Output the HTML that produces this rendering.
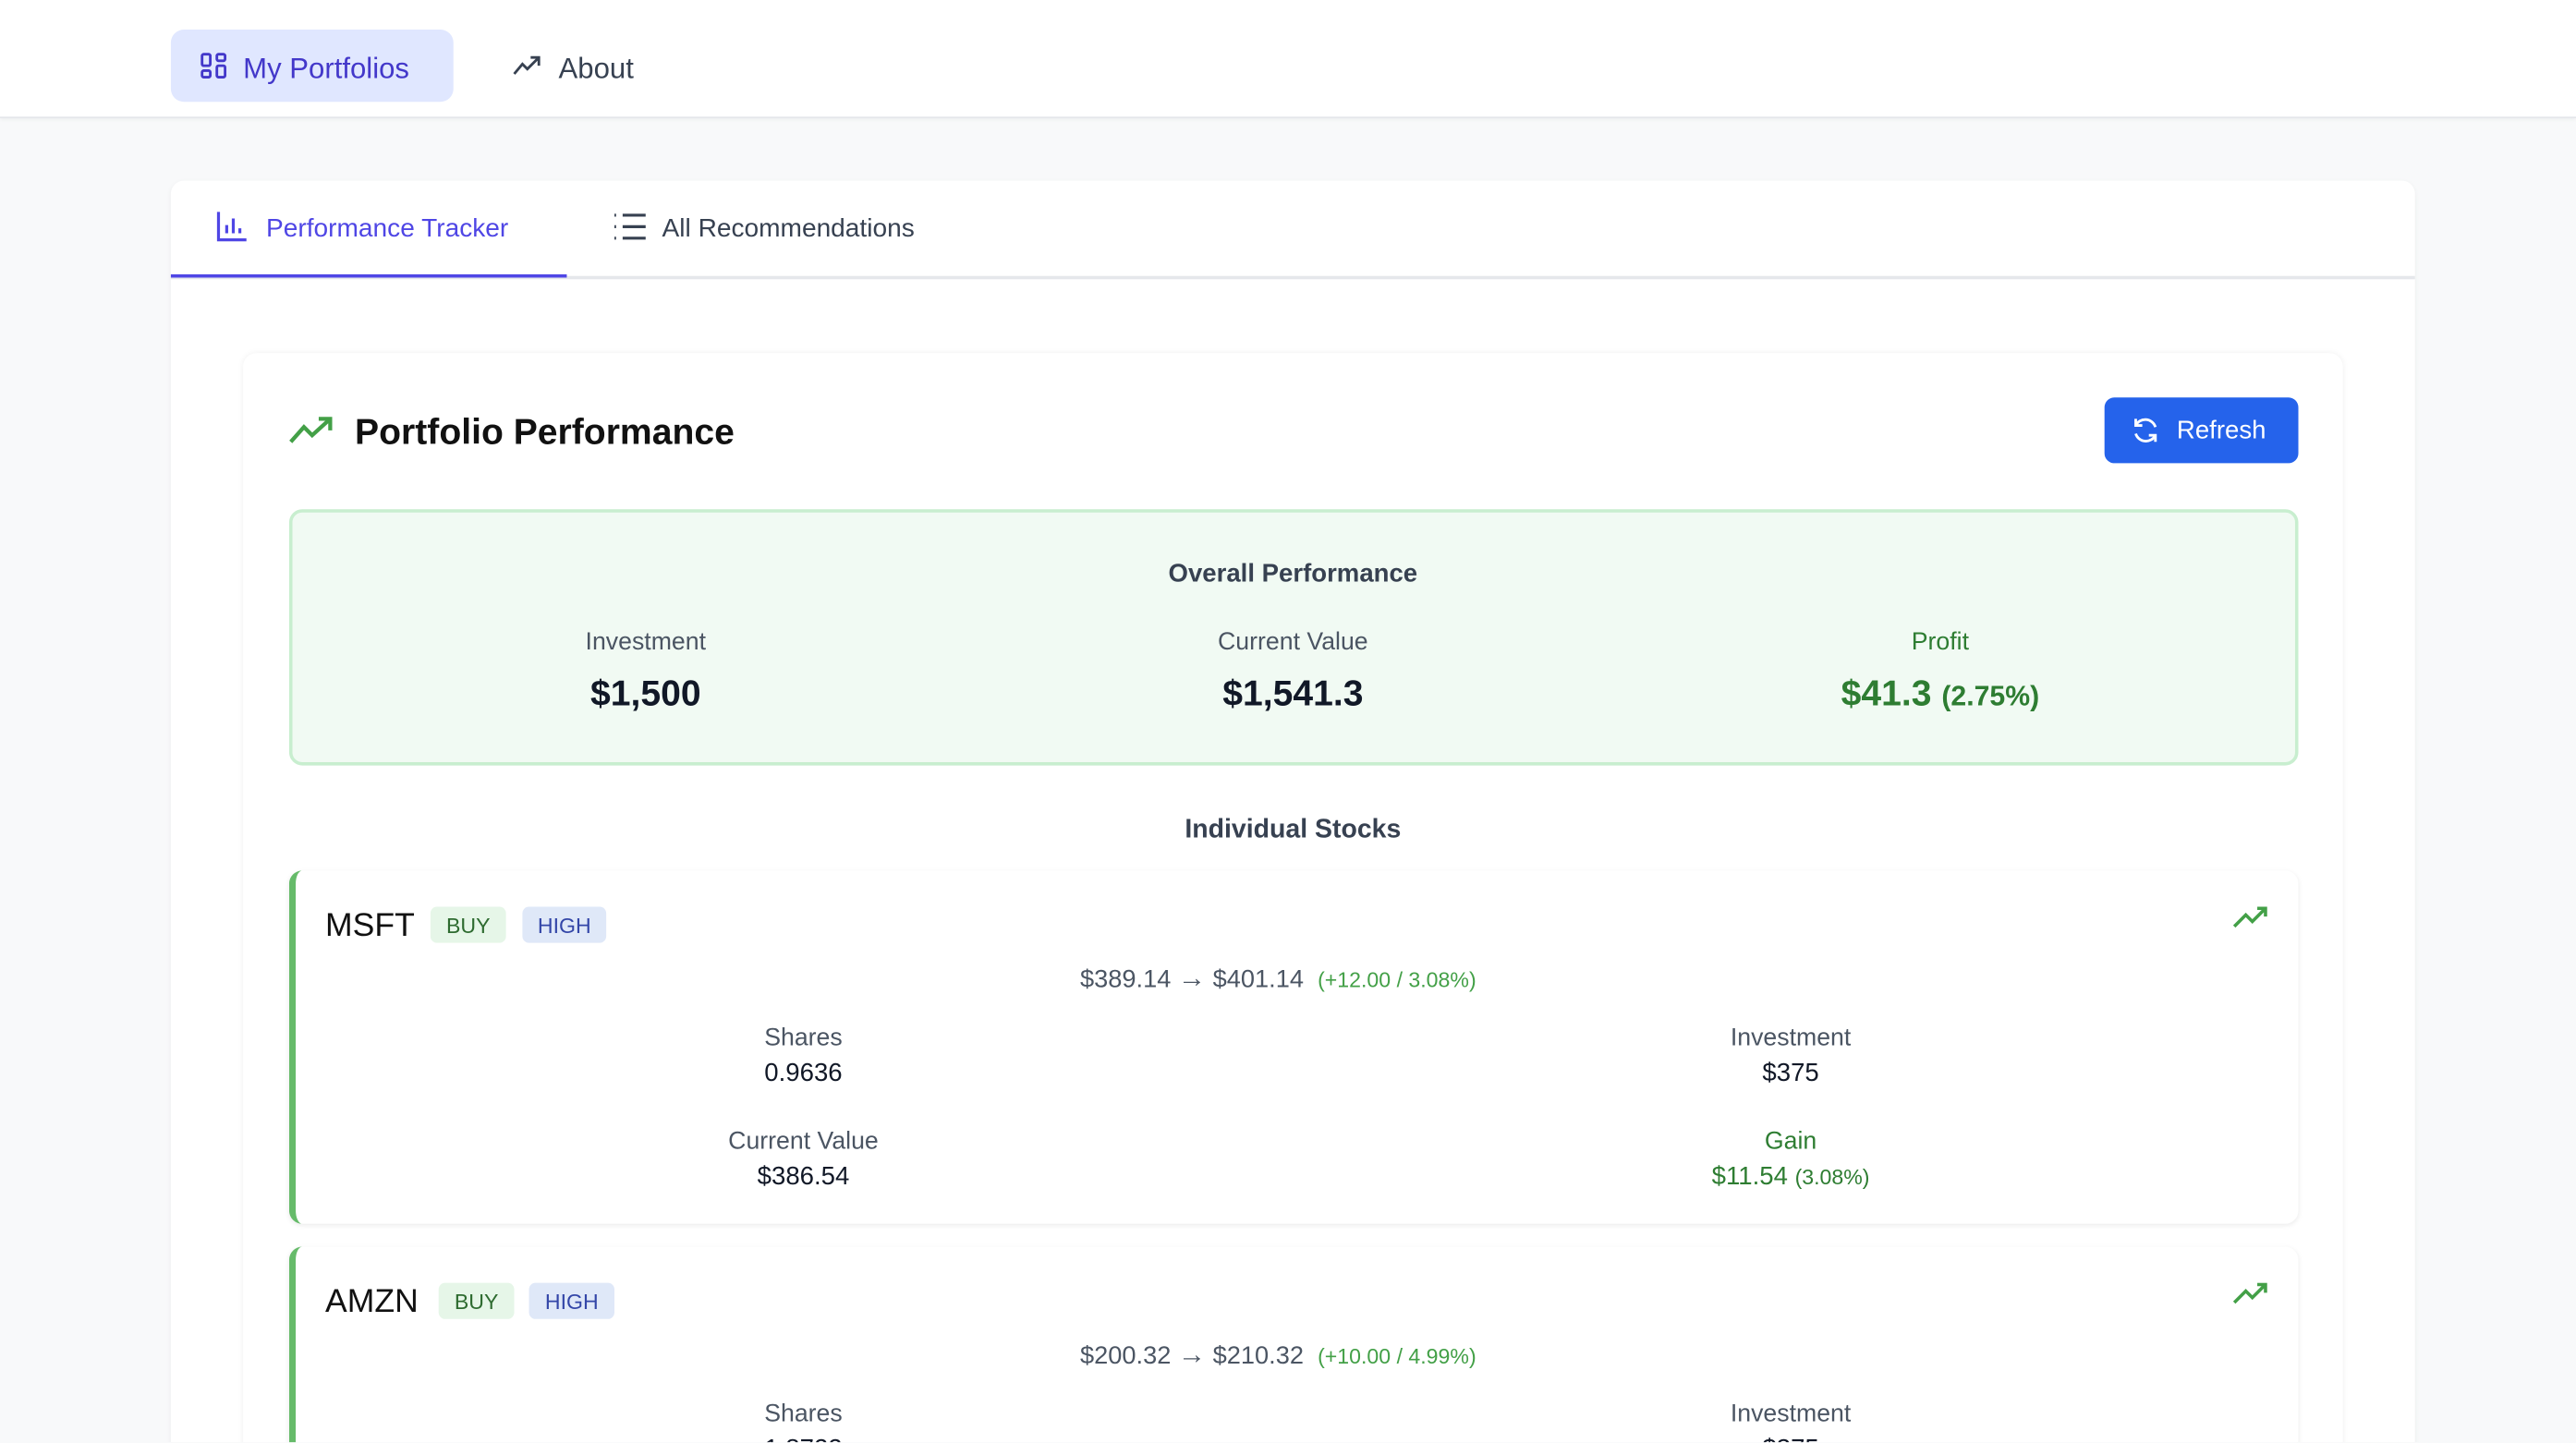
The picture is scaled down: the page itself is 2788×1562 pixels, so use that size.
<!DOCTYPE html>
<html><head><meta charset="utf-8"><style>
*{box-sizing:border-box;margin:0;padding:0}
html,body{width:2788px;height:1562px;overflow:hidden;background:#f8f9fa}
#r{width:1568px;height:878px;overflow:hidden;transform:scale(1.77806);transform-origin:0 0;position:relative;font-family:"Liberation Sans",sans-serif;color:#111827}
.a{position:absolute}
.c{position:absolute;transform:translate(-50%,-45%);white-space:nowrap}
.l{position:absolute;transform:translateY(-45%);white-space:nowrap}
.lab{font-size:15px;color:#4b5563}
.val{font-size:15.5px;color:#111827}
</style></head><body><div id="r">
<div class="a" style="left:0;top:0;width:1568px;height:72px;background:#fff;border-bottom:1px solid #e5e7eb;box-shadow:0 1px 2px rgba(0,0,0,.04)"></div>
<div class="a" style="left:104px;top:18px;width:172px;height:44px;background:#e0e7ff;border-radius:8px"></div>
<svg class="a" style="left:121px;top:31px" width="18" height="18" viewBox="0 0 18 18" fill="none" stroke="#4338ca" stroke-width="1.6"><rect x="2" y="2" width="5" height="7" rx="1"/><rect x="11" y="2" width="5" height="4" rx="1"/><rect x="11" y="9" width="5" height="7" rx="1"/><rect x="2" y="12" width="5" height="4" rx="1"/></svg>
<div class="l" style="left:148px;top:41px;font-size:17.5px;color:#4338ca">My Portfolios</div>
<svg class="a" style="left:312px;top:33px" width="18" height="14" viewBox="0 0 18 14" fill="none" stroke="#374151" stroke-width="1.6"><path d="M1 12l5-6 3 3 7-7M11 2h5v5"/></svg>
<div class="l" style="left:340px;top:41px;font-size:17.5px;color:#374151">About</div>

<div class="a" style="left:104px;top:110px;width:1366px;height:800px;background:#fff;border-radius:8px;box-shadow:0 1px 3px rgba(0,0,0,.05)"></div>
<div class="a" style="left:104px;top:168px;width:1366px;height:2px;background:#e5e7eb"></div>
<div class="a" style="left:104px;top:167px;width:241px;height:2px;background:#4f46e5"></div>
<svg class="a" style="left:131px;top:128px" width="20" height="20" viewBox="0 0 20 20" fill="none" stroke="#4f46e5" stroke-width="1.8"><path d="M2 1v17h17M7 14V9M11 14V5M15 14v-3"/></svg>
<div class="l" style="left:162px;top:139px;font-size:15.8px;color:#4f46e5">Performance Tracker</div>
<svg class="a" style="left:373px;top:129px" width="21" height="18" viewBox="0 0 21 18" fill="none" stroke="#374151" stroke-width="1.8"><path d="M1 2h1M1 9h1M1 16h1M6 2h14M6 9h14M6 16h14"/></svg>
<div class="l" style="left:403px;top:139px;font-size:15.8px;color:#374151">All Recommendations</div>

<div class="a" style="left:148px;top:215px;width:1278px;height:700px;background:#fff;border-radius:8px;box-shadow:0 0 4px rgba(0,0,0,.06)"></div>
<svg class="a" style="left:176px;top:253px" width="27" height="18" viewBox="0 0 27 18" fill="none" stroke="#43a047" stroke-width="2.4"><path d="M1 16l8-9 5 5 11-10M18 2h7v7"/></svg>
<div class="l" style="left:216px;top:262px;font-size:22px;font-weight:bold;color:#111">Portfolio Performance</div>
<div class="a" style="left:1281px;top:242px;width:118px;height:40px;background:#2563eb;border-radius:6px"></div>
<svg class="a" style="left:1297px;top:253px" width="18" height="18" viewBox="0 0 18 18" fill="none" stroke="#fff" stroke-width="1.6"><path d="M15 7A6.5 6.5 0 0 0 3 6M3 2v4h4M3 11a6.5 6.5 0 0 0 12 1M15 16v-4h-4"/></svg>
<div class="l" style="left:1325px;top:262px;font-size:15.5px;color:#fff">Refresh</div>

<div class="a" style="left:176px;top:310px;width:1223px;height:156px;background:#f1faf3;border:2px solid #c8eecf;border-radius:8px"></div>
<div class="c" style="left:787px;top:349px;font-size:15.5px;font-weight:bold;color:#374151">Overall Performance</div>
<div class="c lab" style="left:393px;top:390px">Investment</div>
<div class="c lab" style="left:787px;top:390px">Current Value</div>
<div class="c" style="left:1181px;top:390px;font-size:15px;color:#2e7d32">Profit</div>
<div class="c" style="left:393px;top:421px;font-size:22px;font-weight:bold">$1,500</div>
<div class="c" style="left:787px;top:421px;font-size:22px;font-weight:bold">$1,541.3</div>
<div class="c" style="left:1181px;top:421px;font-size:22px;font-weight:bold;color:#2e7d32">$41.3 <span style="font-size:17px">(2.75%)</span></div>

<div class="c" style="left:787px;top:505px;font-size:16px;font-weight:bold;color:#374151">Individual Stocks</div>

<div class="a" style="left:176px;top:530px;width:1223px;height:215px;background:#fff;border-left:4px solid #66bb6a;border-radius:8px;box-shadow:0 1px 3px rgba(0,0,0,.08)"></div>
<div class="l" style="left:198px;top:563px;font-size:20px;color:#111">MSFT</div>
<div class="a" style="left:262px;top:552px;width:46px;height:22px;background:#e6f6e8;border-radius:4px;color:#2e6b30;font-size:13px;text-align:center;line-height:23px">BUY</div>
<div class="a" style="left:318px;top:552px;width:51px;height:22px;background:#dfe8f8;border-radius:4px;color:#3346a8;font-size:13px;text-align:center;line-height:23px">HIGH</div>
<svg class="a" style="left:1359px;top:552px" width="22" height="14" viewBox="0 0 22 14" fill="none" stroke="#43a047" stroke-width="2"><path d="M1 12l7-7 4 4 8-8M15 1h5v5"/></svg>
<div class="c" style="left:778px;top:595px;font-size:15.3px;color:#4b5563">$389.14 <span style="font-size:17px">→</span> $401.14 &nbsp;<span style="font-size:13px;color:#43a047">(+12.00 / 3.08%)</span></div>
<div class="c lab" style="left:489px;top:631px">Shares</div>
<div class="c val" style="left:489px;top:653px">0.9636</div>
<div class="c lab" style="left:1090px;top:631px">Investment</div>
<div class="c val" style="left:1090px;top:653px">$375</div>
<div class="c lab" style="left:489px;top:694px">Current Value</div>
<div class="c val" style="left:489px;top:716px">$386.54</div>
<div class="c" style="left:1090px;top:694px;font-size:15px;color:#2e7d32">Gain</div>
<div class="c" style="left:1090px;top:716px;font-size:15.5px;color:#2e7d32">$11.54 <span style="font-size:13px">(3.08%)</span></div>

<div class="a" style="left:176px;top:759px;width:1223px;height:215px;background:#fff;border-left:4px solid #66bb6a;border-radius:8px;box-shadow:0 1px 3px rgba(0,0,0,.08)"></div>
<div class="l" style="left:198px;top:792px;font-size:20px;color:#111">AMZN</div>
<div class="a" style="left:267px;top:781px;width:46px;height:22px;background:#e6f6e8;border-radius:4px;color:#2e6b30;font-size:13px;text-align:center;line-height:23px">BUY</div>
<div class="a" style="left:322px;top:781px;width:52px;height:22px;background:#dfe8f8;border-radius:4px;color:#3346a8;font-size:13px;text-align:center;line-height:23px">HIGH</div>
<svg class="a" style="left:1359px;top:781px" width="22" height="14" viewBox="0 0 22 14" fill="none" stroke="#43a047" stroke-width="2"><path d="M1 12l7-7 4 4 8-8M15 1h5v5"/></svg>
<div class="c" style="left:778px;top:824px;font-size:15.3px;color:#4b5563">$200.32 <span style="font-size:17px">→</span> $210.32 &nbsp;<span style="font-size:13px;color:#43a047">(+10.00 / 4.99%)</span></div>
<div class="c lab" style="left:489px;top:860px">Shares</div>
<div class="c lab" style="left:1090px;top:860px">Investment</div>
<div class="c val" style="left:489px;top:882px">1.8722</div>
<div class="c val" style="left:1090px;top:882px">$375</div>
</div></body></html>
